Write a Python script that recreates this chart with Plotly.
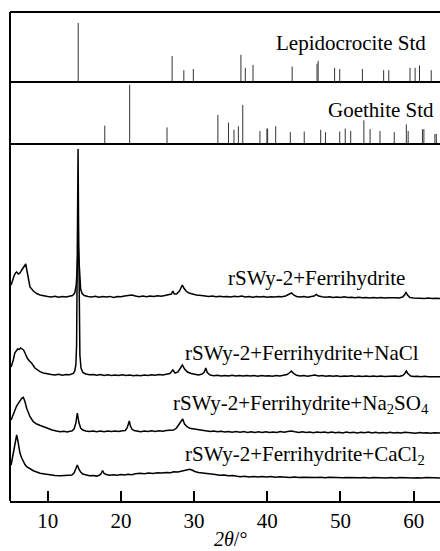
import plotly.graph_objects as go

# ---------------- Reference standards (stick patterns) ----------------
lepido_2theta = [14.17, 27.0, 28.6, 29.9, 36.4, 37.0, 38.05, 43.4, 46.8, 46.95,
                 49.2, 49.9, 53.0, 55.9, 56.6, 59.5, 60.2, 60.8, 62.4]
lepido_int = [100, 44, 20, 22, 46, 24, 29, 26, 31, 36,
              24, 22, 22, 20, 20, 24, 24, 28, 20]

goethite_2theta = [17.8, 21.2, 26.3, 33.25, 34.7, 35.45, 36.05, 36.65, 39.0, 39.95,
                   40.05, 41.15, 43.15, 45.05, 47.3, 47.95, 49.9, 50.65, 51.4, 53.2,
                   54.05, 55.4, 57.35, 59.0, 59.25, 61.2, 61.4, 62.9, 63.1]
goethite_int = [31, 100, 28, 49, 36, 24, 30, 66, 22, 26,
                26, 30, 20, 21, 24, 20, 21, 26, 22, 40,
                25, 22, 20, 33, 22, 25, 25, 17, 17]

# ---------------- Measured patterns (intensity above own baseline) ----------------
ferri_2theta = [5.0, 5.2, 5.4, 5.6, 5.76, 6.0, 6.22, 6.45, 6.67, 6.85, 7.0, 7.15, 7.35, 7.58,
                8.04, 8.5, 8.95, 9.5, 10.0, 10.5, 11.0, 11.5, 12.0, 12.5, 13.0, 13.4, 13.7,
                13.9, 14.0, 14.1, 14.17, 14.25, 14.35, 14.5, 14.7, 15.0, 15.5, 16.0, 16.5,
                17.0, 17.5, 18.0, 18.5, 19.0, 19.5, 20.0, 20.5, 21.0, 21.5, 22.0, 22.5,
                23.0, 23.5, 24.0, 24.5, 25.0, 25.5, 26.0, 26.5, 26.9, 27.1, 27.3, 27.6,
                28.0, 28.2, 28.4, 28.6, 28.9, 29.3, 29.8, 30.3, 31.0, 31.5, 32.0, 32.5,
                33.0, 33.5, 34.0, 34.5, 35.0, 35.5, 36.0, 36.5, 37.0, 37.5, 38.0, 38.5,
                39.0, 39.5, 40.0, 40.5, 41.0, 41.5, 42.0, 42.5, 43.0, 43.3, 43.6, 44.0,
                44.5, 45.0, 45.5, 46.0, 46.4, 46.7, 47.0, 47.5, 48.0, 48.5, 49.0, 49.5,
                50.0, 50.5, 51.0, 51.5, 52.0, 52.5, 53.0, 53.5, 54.0, 54.5, 55.0, 55.5,
                56.0, 56.5, 57.0, 57.5, 58.0, 58.5, 58.8, 58.95, 59.15, 59.5, 60.0, 60.5,
                61.0, 61.5, 62.0, 62.5, 63.0, 63.6]
ferri_int = [12, 17, 21, 24, 25, 23, 24, 27, 29, 31, 33, 27, 17, 10,
             6, 3.5, 2, 1, 0.5, 0, 0.8, -0.3, 0.5, 0, 0.8, 1.5, 4,
             12, 25, 42, 52, 40, 20, 8, 3.5, 1.5, 0.5, 0, 0.8,
             -0.3, 0.5, 0, 0.6, -0.4, 0.5, 0.2, 0.9, 1.5, 2, 1, 0.3,
             0.9, 0.2, 1, 0.5, 1.2, 0.8, 1.5, 2, 3, 6, 3, 3,
             6, 9, 12, 9, 6, 4, 3, 2, 1.5, 1, 0.5, 1,
             0.3, 0.8, 0.2, 0.6, 0, 0.8, 0.2, 1, 0, 0.5, -0.3, 0.4,
             0, 0.6, -0.2, 0.3, 0, 0.5, 0.2, 1, 2.5, 4, 2, 0.5,
             0, 0.5, -0.2, 0.3, 1, 2.5, 1, 0.2, -0.3, 0.2, -0.5, 0,
             -0.5, 0.2, -0.6, -0.2, -0.8, -0.3, -0.8, -0.5, -1, -0.4, -1, -0.6,
             -1.1, -0.7, -1.1, -0.8, -0.9, 0, 2.5, 5, 2, -0.5, -1, -1.3,
             -0.9, -1.4, -1, -1.5, -1.2, -1.5]

nacl_2theta = [5.0, 5.15, 5.3, 5.5, 5.7, 5.9, 6.1, 6.3, 6.5, 6.7, 6.9, 7.2, 7.5, 7.8,
               8.25, 8.6, 8.95, 9.4, 9.9, 10.5, 11.0, 11.5, 12.0, 12.5, 13.0, 13.5, 13.7,
               13.85, 13.95, 14.05, 14.15, 14.22, 14.3, 14.4, 14.55, 14.8, 15.2, 15.7,
               16.2, 16.7, 17.2, 17.7, 18.2, 18.7, 19.2, 19.7, 20.2, 20.7, 21.2, 21.7,
               22.2, 22.7, 23.2, 23.7, 24.2, 24.7, 25.2, 25.7, 26.2, 26.7, 27.1, 27.4,
               27.8, 28.1, 28.4, 28.7, 29.1, 29.6, 30.1, 30.6, 31.1, 31.4, 31.6, 31.8,
               32.2, 32.7, 33.2, 33.7, 34.2, 34.7, 35.2, 35.7, 36.2, 36.7, 37.2, 37.7,
               38.2, 38.7, 39.2, 39.7, 40.2, 40.7, 41.2, 41.7, 42.2, 42.7, 43.0, 43.3,
               43.6, 44.0, 44.5, 45.0, 45.5, 46.0, 46.5, 47.0, 47.5, 48.0, 48.5, 49.0,
               49.5, 50.0, 50.5, 51.0, 51.5, 52.0, 52.5, 53.0, 53.5, 54.0, 54.5, 55.0,
               55.5, 56.0, 56.5, 57.0, 57.5, 58.0, 58.5, 58.8, 59.0, 59.2, 59.6, 60.0,
               60.5, 61.0, 61.5, 62.0, 62.5, 63.0, 63.6]
nacl_int = [8, 11, 15, 22, 24, 26, 25.5, 27, 26, 25, 22, 17, 14, 12,
            7, 5, 3.3, 2, 1, 0.5, 0, 0.7, -0.2, 0.5, 0.2, 1.5, 4,
            10, 30, 110, 226, 150, 60, 20, 7, 2.5, 1, 0.2,
            0.6, -0.3, 0.4, -0.5, 0.2, -0.6, 0, -0.4, 0.3, -0.5, 0, -0.8,
            -0.2, -0.7, 0, -0.6, 0.2, -0.3, 0.5, 0, 0.8, 1.5, 5, 2,
            3, 6, 10, 6, 3, 1.5, 0.5, 0, 1, 3, 7, 2.5,
            0, -0.8, -0.2, -1, -0.4, -0.9, -0.2, -1, -0.5, -1.1, -0.4, -1,
            -0.6, -1.2, -0.5, -1, -0.7, -1.2, -0.6, -1, -0.3, 0.5, 2, 4,
            1.5, -0.3, -1, -0.6, -1.2, -0.7, 0, -1, -0.6, -1.3, -0.8, -1.2,
            -0.7, -1.4, -0.9, -1.3, -0.8, -1.5, -1, -1.4, -0.9, -1.5, -1.1, -1.6,
            -1, -1.5, -1.2, -1.6, -1.1, -1.4, -0.5, 1.5, 4, 1.5, -1, -1.5,
            -1.2, -1.7, -1.3, -1.8, -1.4, -1.7, -1.8]

na2so4_2theta = [5.0, 5.25, 5.5, 5.75, 5.99, 6.2, 6.45, 6.67, 6.9, 7.13, 7.35, 7.58, 8.04,
                 8.5, 9.0, 9.4, 10.0, 10.6, 11.2, 11.7, 12.2, 12.7, 13.0, 13.3, 13.6,
                 13.85, 14.05, 14.25, 14.5, 14.8, 15.2, 15.7, 16.2, 16.7, 17.2, 17.7,
                 18.2, 18.7, 19.2, 19.7, 20.2, 20.6, 20.85, 21.0, 21.15, 21.3, 21.5,
                 21.8, 22.2, 22.7, 23.2, 23.7, 24.2, 24.7, 25.2, 25.7, 26.2, 26.7, 27.2,
                 27.6, 28.0, 28.2, 28.44, 28.7, 29.0, 29.4, 30.0, 30.6, 31.2, 31.7, 32.2,
                 32.7, 33.2, 33.7, 34.2, 34.7, 35.2, 35.7, 36.3, 36.8, 37.3, 37.8, 38.3,
                 38.8, 39.3, 39.8, 40.3, 40.8, 41.3, 41.8, 42.3, 42.8, 43.3, 43.8, 44.3,
                 44.8, 45.3, 45.8, 46.3, 46.8, 47.3, 47.8, 48.3, 48.8, 49.3, 49.8, 50.3,
                 50.8, 51.3, 51.8, 52.3, 52.8, 53.3, 53.8, 54.3, 54.8, 55.3, 55.8, 56.3,
                 56.8, 57.3, 57.8, 58.3, 58.8, 59.3, 59.8, 60.3, 60.8, 61.3, 61.8, 62.3,
                 62.8, 63.6]
na2so4_int = [12, 17, 22, 26, 28.7, 31, 33.7, 34.7, 30.3, 23.7, 19, 15.3, 10.3,
              8, 6.5, 5.3, 3.5, 2, 1, 0.3, 0.8, 0, 0.7, 1, 3,
              9, 19, 10, 4, 2, 1, 0.4, 1, 0.3, 0.9, 0.2,
              1, 0.4, 1.1, 0.5, 1.2, 1.5, 4, 7, 11, 6, 3,
              1.5, 1, 0.3, 1, 0.4, 1.2, 0.6, 1.3, 0.8, 1.6, 1.5, 2,
              4, 8, 10, 13, 8, 5.5, 3.7, 3, 2.2, 1.6, 1, 0.4,
              0.9, 0.2, 0.7, 0, 0.6, -0.2, 0.5, -0.3, 0.4, -0.4, 0.3, -0.5,
              0.2, -0.4, 0.3, -0.6, 0.1, -0.5, 0.4, -0.3, 0.5, 1, 0.2, -0.5,
              0.2, -0.6, 0, -0.7, 0.1, -0.6, -0.1, -0.8, 0, -0.7, -0.2, -0.9,
              -0.1, -0.8, -0.2, -1, -0.3, -0.8, -0.1, -0.9, -0.3, -1, -0.4, -1.1,
              -0.3, -1, -0.4, -1.1, -0.2, -0.6, -0.9, -1.2, -0.6, -1.1, -0.7, -1.2,
              -0.8, -1.1]

cacl2_2theta = [5.0, 5.2, 5.4, 5.55, 5.67, 5.76, 5.88, 5.99, 6.1, 6.22, 6.45, 6.67, 6.9,
                7.13, 7.6, 8.04, 8.5, 8.95, 9.6, 10.3, 11.0, 11.8, 12.6, 13.0, 13.3,
                13.6, 13.85, 14.05, 14.25, 14.5, 14.8, 15.2, 15.7, 16.2, 16.7, 17.1,
                17.3, 17.5, 17.7, 18.0, 18.5, 19.0, 19.5, 20.0, 20.5, 21.0, 21.5, 22.0,
                22.6, 23.2, 23.8, 24.4, 25.0, 25.6, 26.2, 26.8, 27.2, 27.8, 28.3, 28.8,
                29.1, 29.4, 29.7, 30.1, 30.6, 31.2, 31.7, 32.3, 32.9, 33.5, 34.1, 34.7,
                35.3, 35.9, 36.3, 36.9, 37.5, 38.1, 38.7, 39.3, 39.9, 40.5, 41.1, 41.7,
                42.3, 43.1, 43.7, 44.3, 44.9, 45.5, 46.1, 46.7, 47.3, 47.9, 48.5, 49.1,
                49.7, 50.3, 50.9, 51.5, 52.1, 52.7, 53.3, 53.9, 54.5, 55.1, 55.7, 56.3,
                56.9, 57.5, 58.1, 58.7, 59.3, 59.9, 60.5, 61.1, 61.7, 62.3, 62.9, 63.6]
cacl2_int = [11, 19, 26, 33, 39, 41, 37, 32.7, 27, 22.7, 18, 14.3, 11.5,
             9.3, 7, 5.3, 4, 2.7, 2, 1, 0.6, 0.2, 0.3, 0.5, 1,
             3, 7, 11, 7, 4, 2, 1, 0.2, 0.6, -0.1, 1,
             2.5, 5.5, 2.5, 1.5, 0.8, 1.2, 0.7, 1.5, 1.1, 1.8, 1.3, 2.2,
             2.7, 2.3, 3, 2.6, 3.3, 2.9, 3.6, 3.2, 4.3, 4, 5, 5.5,
             6.3, 6.7, 6, 4.5, 3.5, 3.2, 2.7, 2, 1.6, 0.8, 1, 0.2,
             0.4, -0.3, -0.7, -0.2, -0.9, -0.4, -1, -0.5, -1.1, -0.6, -1.2, -0.8,
             -1.3, -1.5, -1.1, -1.6, -1.2, -1.5, -1.1, -1.6, -1.3, -1.7, -1.2, -1.6,
             -1.3, -1.8, -1.4, -1.7, -1.3, -1.8, -1.4, -1.9, -1.5, -1.8, -1.4, -1.9,
             -1.6, -2, -1.5, -1.9, -1.6, -2, -1.7, -2.1, -1.6, -2, -1.8, -2]

sample_labels = ["rSWy-2+Ferrihydrite",
                 "rSWy-2+Ferrihydrite+NaCl",
                 "rSWy-2+Ferrihydrite+Na<sub>2</sub>SO<sub>4</sub>",
                 "rSWy-2+Ferrihydrite+CaCl<sub>2</sub>"]
standard_labels = ["Lepidocrocite Std", "Goethite Std"]
x_ticks = [10, 20, 30, 40, 50, 60]

# ---------------- Layout constants ----------------
W, H = 440, 551
M_L, M_R, M_T, M_B = 10, 0, 12, 50
PLOT_H = H - M_T - M_B
BOTTOM_PX = H - M_B


def py(px):
    """pixel row -> paper fraction"""
    return (BOTTOM_PX - px) / PLOT_H


MAIN_TOP = py(144)
GOE_TOP = py(82)
X_RANGE = [4.85, 63.6]
offsets = [204, 126, 69, 25]
FONT = "Liberation Serif, Times New Roman, serif"


def sticks(xs, ys):
    X, Y = [], []
    for a, b in zip(xs, ys):
        X += [a, a, None]
        Y += [0, b, None]
    return X, Y


fig = go.Figure()

series = [(ferri_2theta, ferri_int), (nacl_2theta, nacl_int),
          (na2so4_2theta, na2so4_int), (cacl2_2theta, cacl2_int)]
for (xs, ys), off, name in zip(series, offsets, sample_labels):
    fig.add_trace(go.Scatter(x=xs, y=[v + off for v in ys], mode="lines",
                             line=dict(color="black", width=1.5), name=name,
                             hoverinfo="skip"))

lx, ly = sticks(goethite_2theta, goethite_int)
fig.add_trace(go.Scatter(x=lx, y=ly, yaxis="y2", mode="lines",
                         line=dict(color="#333333", width=1), name="Goethite Std"))
lx, ly = sticks(lepido_2theta, lepido_int)
fig.add_trace(go.Scatter(x=lx, y=ly, yaxis="y3", mode="lines",
                         line=dict(color="#333333", width=1), name="Lepidocrocite Std"))

frame = dict(color="black", width=2)
shapes = [
    dict(type="line", xref="paper", yref="paper", x0=0, x1=0, y0=0, y1=1, line=frame),
    dict(type="line", xref="paper", yref="paper", x0=0, x1=1, y0=1, y1=1, line=frame),
    dict(type="line", xref="paper", yref="paper", x0=0, x1=1, y0=GOE_TOP, y1=GOE_TOP, line=frame),
    dict(type="line", xref="paper", yref="paper", x0=0, x1=1, y0=MAIN_TOP, y1=MAIN_TOP, line=frame),
]

lab_font = dict(family=FONT, size=21, color="black")
annotations = [
    dict(text=standard_labels[0], x=51.44, xref="x", y=py(43), yref="paper",
         showarrow=False, font=lab_font, xanchor="center", yanchor="middle"),
    dict(text=standard_labels[1], x=55.54, xref="x", y=py(110), yref="paper",
         showarrow=False, font=lab_font, xanchor="center", yanchor="middle"),
]
label_x = [46.66, 44.81, 44.6, 45.15]
label_y = [223, 148, 97, 46]
for t, lx_, ly_ in zip(sample_labels, label_x, label_y):
    annotations.append(dict(text=t, x=lx_, y=ly_, xref="x", yref="y", showarrow=False,
                            font=lab_font, xanchor="center", yanchor="middle"))
annotations.append(dict(text="<i>2θ</i>/°", x=(231 - M_L) / (W - M_L - M_R), xref="paper",
                        y=py(539), yref="paper", showarrow=False,
                        font=dict(family=FONT, size=20, color="black"),
                        xanchor="center", yanchor="middle"))

hidden = dict(visible=False, showgrid=False, zeroline=False, fixedrange=True)
fig.update_layout(
    width=W, height=H,
    margin=dict(l=M_L, r=M_R, t=M_T, b=M_B, pad=0),
    paper_bgcolor="white", plot_bgcolor="white",
    showlegend=False,
    xaxis=dict(range=X_RANGE, domain=[0, 1], anchor="y", tickmode="array",
               tickvals=x_ticks, ticks="inside", ticklen=10, tickwidth=2,
               tickcolor="black", showline=True, linewidth=2, linecolor="black",
               showgrid=False, zeroline=False,
               tickfont=dict(family=FONT, size=21, color="black")),
    yaxis=dict(domain=[0, MAIN_TOP], range=[0, BOTTOM_PX - 144], anchor="x", **hidden),
    yaxis2=dict(domain=[MAIN_TOP, GOE_TOP], range=[0, 104.6], anchor="x", **hidden),
    yaxis3=dict(domain=[GOE_TOP, 1], range=[0, 118.6], anchor="x", **hidden),
    shapes=shapes,
    annotations=annotations,
)

fig.write_html("out.html", config={"displayModeBar": False},
               post_script="document.body.style.margin='0';document.body.style.overflow='hidden';")
